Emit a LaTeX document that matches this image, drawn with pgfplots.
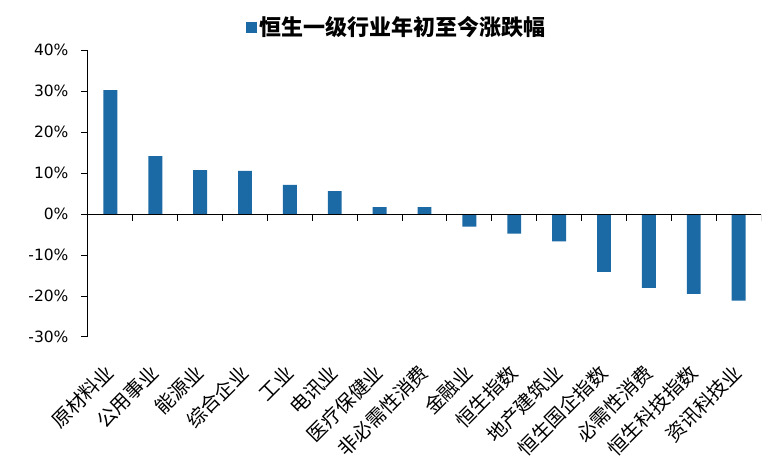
\documentclass[border=0pt]{standalone}
\usepackage{pgfplots}
\pgfplotsset{compat=1.18}
\usepackage{fontspec}
\setmainfont{DejaVu Sans}
\newfontfamily\cjk{Noto Sans CJK SC}
\definecolor{barblue}{RGB}{27,106,165}
\begin{document}
\begin{tikzpicture}
\path[use as bounding box] (-88pt,-136pt) rectangle (696pt,337pt);
\begin{axis}[
  at={(0pt,0pt)}, anchor=south west,
  scale only axis, width=673pt, height=287pt,
  xmin=-0.5, xmax=14.5, ymin=-30, ymax=40,
  axis x line=bottom, axis y line=left,
  x axis line style={draw=none},
  y axis line style={-, line width=1pt, black},
  xtick=data,
  xticklabels={原材料业,公用事业,能源业,综合企业,工业,电讯业,医疗保健业,非必需性消费,金融业,恒生指数,地产建筑业,恒生国企指数,必需性消费,恒生科技指数,资讯科技业},
  x tick style={draw=none},
  xticklabel style={rotate=45, anchor=east, inner sep=0pt, font=\cjk\fontsize{19.5}{19.5}\selectfont},
  xticklabel shift=25pt,
  ytick={-30,-20,...,40},
  y tick style={line width=1pt, black},
  tick align=outside, major tick length=7pt,
  yticklabel={\pgfmathprintnumber{\tick}\%},
  yticklabel style={font=\fontsize{15.5}{15.5}\selectfont, xshift=-9pt},
  /pgf/number format/assume math mode=true,
  legend style={at={(0.459,1.08)}, anchor=center, draw=none, fill=none,
    font=\cjk\bfseries\fontsize{22}{22}\selectfont},
]
\addplot[ybar, bar width=0.31, bar shift=0pt, fill=barblue, draw=none,
  legend image code/.code={\fill[barblue] (0pt,-5.5pt) rectangle (11pt,5.5pt);}]
coordinates {
(0,30.2) (1,14.1) (2,10.7) (3,10.5) (4,7.1) (5,5.6) (6,1.7) (7,1.7)
(8,-3.1) (9,-4.8) (10,-6.7) (11,-14.1) (12,-18.0) (13,-19.5) (14,-21.1)
};
\addlegendentry{恒生一级行业年初至今涨跌幅}
\draw[line width=1pt, black] (axis cs:-0.5,0) -- (axis cs:14.5,0);
\pgfplotsinvokeforeach{-0.5,0.5,1.5,2.5,3.5,4.5,5.5,6.5,7.5,8.5,9.5,10.5,11.5,12.5,13.5,14.5}{
  \draw[line width=1pt, black] (axis cs:#1,0) -- ++(0pt,-7pt);
}
\end{axis}
\end{tikzpicture}
\end{document}
